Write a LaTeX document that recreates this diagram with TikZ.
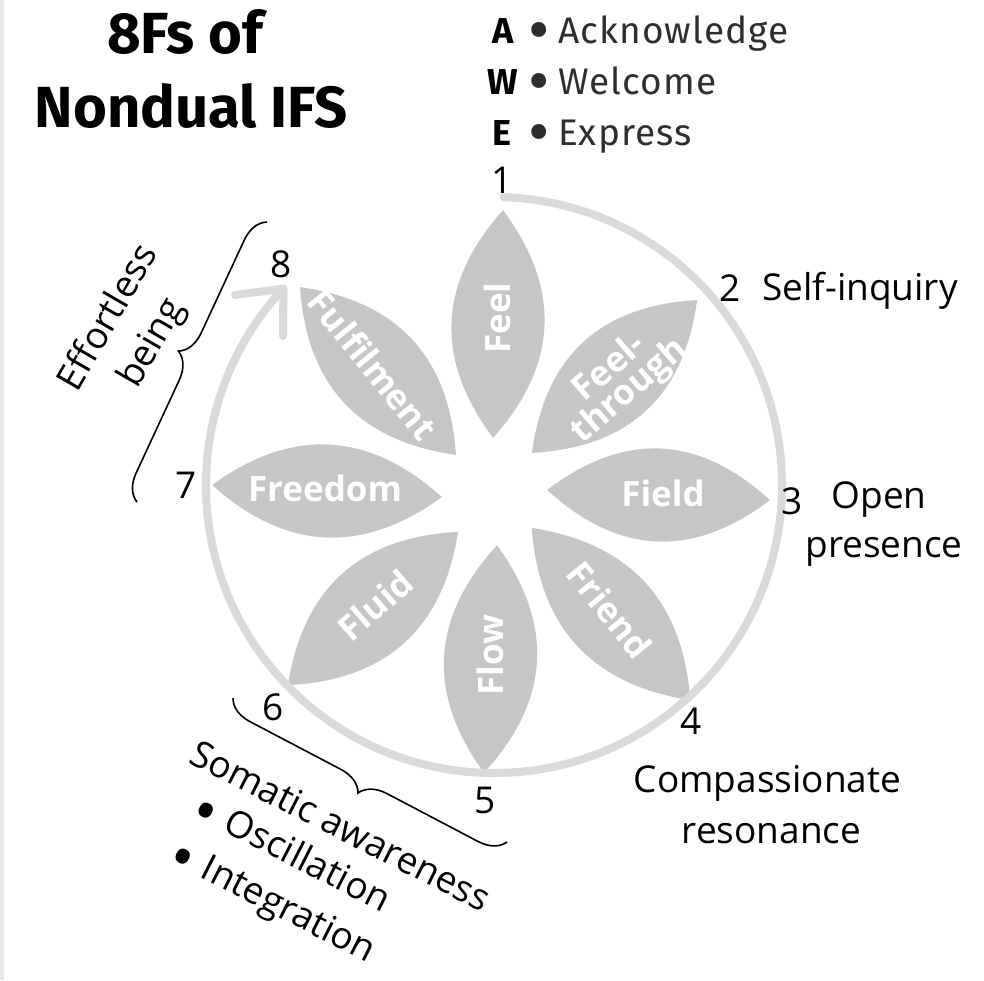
\documentclass[tikz,border=0pt]{standalone}
\usepackage{fontspec}
\setmainfont{Open Sans}
\newfontfamily\firafont{Fira Sans}
\newfontfamily\firalist{Fira Sans}[LetterSpace=3]
\usetikzlibrary{decorations.pathreplacing}
\definecolor{petalgray}{HTML}{C6C6C6}
\definecolor{ringgray}{HTML}{DADADA}
\definecolor{edgegray}{HTML}{E9E9EE}
\definecolor{listgray}{HTML}{2E2E2E}
\newcommand\leaf[4]{\fill[petal,shift={(#1,#2)},rotate=#3] (-#4/2,0) .. controls (-#4/6,62) and (#4/6,62) .. (#4/2,0) .. controls (#4/6,-62) and (-#4/6,-62) .. cycle;}
\newcommand\bigdotF{\raisebox{-9.5pt}{\firafont\fontsize{66}{66}\selectfont •}}
\newcommand\bigdotO{\raisebox{-12pt}{\fontsize{62}{62}\selectfont •}}
\begin{document}
\begin{tikzpicture}[x=1pt,y=-1pt,
  petal/.style={fill=petalgray},
  ptext/.style={text=white,font=\fontsize{35}{30}\selectfont\bfseries,inner sep=0pt,align=center},
  lbl/.style={font=\fontsize{37}{50}\selectfont,inner sep=0pt,align=center},
  titletext/.style={font=\firafont\bfseries\fontsize{58}{74}\selectfont,inner sep=0pt},
  listhead/.style={font=\firafont\bfseries\fontsize{36}{50}\selectfont,inner sep=0pt},
  listtext/.style={font=\firalist\fontsize{37}{50}\selectfont,text=listgray,inner sep=0pt},
  ring/.style={draw=ringgray,line width=8pt,line cap=round,line join=round},
  bracestyle/.style={draw=black,line width=1.6pt,decorate,decoration={brace,amplitude=26pt}}
]
\useasboundingbox (0,0) rectangle (984,980);
\fill[white] (0,0) rectangle (984,980);
\fill[edgegray] (0,0) rectangle (4,980);

% title
\node[titletext,anchor=base] (title1) at (185,53) {8Fs of};
\node[titletext,anchor=base] (title2) at (191.5,127) {Nondual IFS};

% AWE list
\node[listhead,anchor=base] (la) at (503,43) {A};
\node[listhead,anchor=base] (lw) at (503,94) {W};
\node[listhead,anchor=base] (le) at (502,145) {E};
\node[listtext,anchor=base west] (ta) at (528,43) {\bigdotF\hspace{8.5pt}Acknowledge};
\node[listtext,anchor=base west] (tw) at (528,94) {\bigdotF\hspace{8.5pt}Welcome};
\node[listtext,anchor=base west] (te) at (528,145) {\bigdotF\hspace{8.5pt}Express};

% petals
\leaf{498}{324}{87.5}{228}
\leaf{614.5}{376.5}{42.8}{225}
\leaf{658.5}{495}{-2.6}{223}
\leaf{611}{614}{-47.4}{234}
\leaf{490.5}{659}{-93.3}{228}
\leaf{373}{608.5}{-138}{229}
\leaf{327}{491}{177}{230}
\leaf{378}{371}{132.9}{229}

\node[ptext,rotate=90] (pfeel) at (497,318) {Feel};
\node[ptext,rotate=41] (pthrough) at (620,380) {Feel-\\through};
\node[ptext] (pfield) at (663,493) {Field};
\node[ptext,rotate=-51] (pfriend) at (610,610) {Friend};
\node[ptext,rotate=90] (pflow) at (490,655) {Flow};
\node[ptext,rotate=41] (pfluid) at (375,605) {Fluid};
\node[ptext] (pfreedom) at (325,488) {Freedom};
\node[ptext,rotate=-51] (pfulfil) at (373,365) {Fulfilment};

% ring with arrow
\coordinate (ringc) at (494,485);
\coordinate (tip) at (283.4,288.6);
\coordinate (arm1) at (235,295);
\coordinate (arm2) at (283,336);
\draw[ring] (ringc) ++(-88:288) arc[start angle=-88,end angle=223,radius=288];
\draw[ring] (arm1) -- (tip) -- (arm2);

% numbers and labels
\node[lbl] (n1) at (502,180) {1};
\node[lbl] (n2) at (730,288) {2};
\node[lbl,anchor=base west] (selfinq) at (762,300) {Self-inquiry};
\node[lbl] (n3) at (792,501) {3};
\node[lbl,anchor=base] (open) at (879,508) {Open};
\node[lbl,anchor=base] (presence) at (884,557) {presence};
\node[lbl] (n4) at (691,721) {4};
\node[lbl,anchor=base] (compas) at (767.5,792) {Compassionate};
\node[lbl,anchor=base] (reson) at (771.5,843) {resonance};
\node[lbl] (n5) at (485,800) {5};
\node[lbl] (n6) at (273,707) {6};
\node[lbl] (n7) at (186,485) {7};
\node[lbl] (n8) at (281,264) {8};

% effortless being
\node[lbl,rotate=60] (effort) at (131,331) {Effortless\\being};
\coordinate (bra) at (137,502);
\coordinate (brb) at (267,222);
\draw[bracestyle] (bra) -- (brb);

% somatic awareness
\node[lbl,anchor=base west,rotate=-27] (soma) at (187,762) {Somatic awareness};
\node[lbl,anchor=base west,rotate=-27] (osc) at (191,815) {\bigdotO\hspace{0.3em}Oscillation};
\node[lbl,anchor=base west,rotate=-27] (integ) at (168,861) {\bigdotO\hspace{0.3em}Integration};
\coordinate (brc) at (507,842);
\coordinate (brd) at (233,698);
\draw[bracestyle] (brc) -- (brd);
\end{tikzpicture}
\end{document}
